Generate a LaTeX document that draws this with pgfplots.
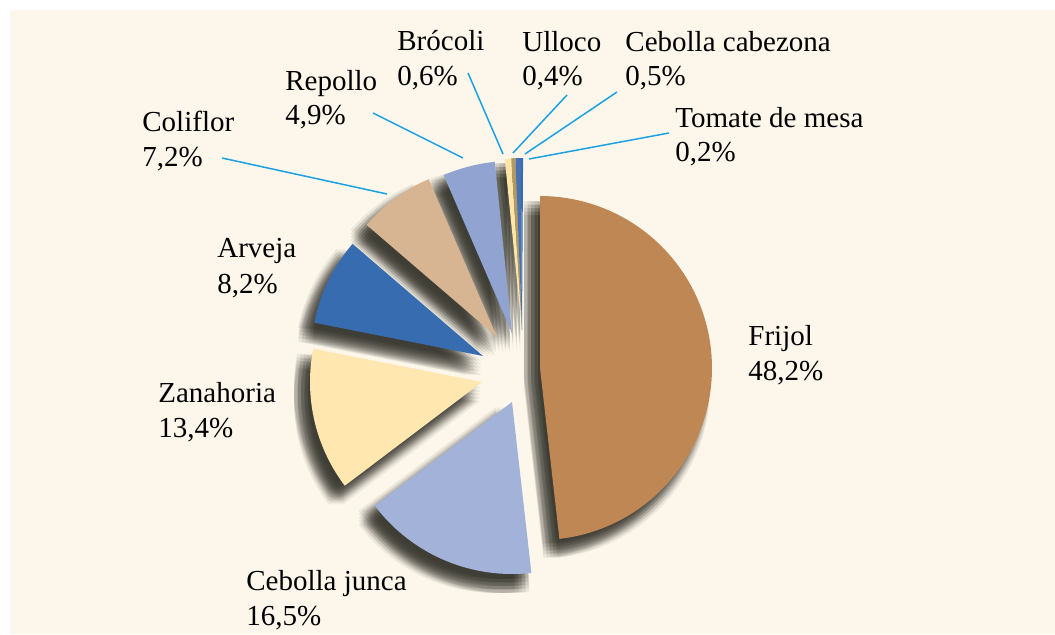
\documentclass[border=0pt]{standalone}
\usepackage{pgfplots}
\pgfplotsset{compat=1.18}
\usepackage{fontspec}
\setmainfont{Liberation Serif}
\newfontfamily\labfont{Liberation Serif}
\definecolor{cream}{HTML}{FDF7EB}
\definecolor{shadowc}{HTML}{26251F}
\definecolor{leader}{HTML}{1BA1E2}
\definecolor{cFrijol}{HTML}{BF8754}
\definecolor{cJunca}{HTML}{A3B2D8}
\definecolor{cZanahoria}{HTML}{FFE7AF}
\definecolor{cArveja}{HTML}{386CB0}
\definecolor{cColiflor}{HTML}{D7B592}
\definecolor{cRepollo}{HTML}{91A3D1}
\definecolor{cBrocoli}{HTML}{FFE5A8}
\definecolor{cUlloco}{HTML}{B19A62}
\definecolor{cCabezona}{HTML}{4672B4}
\definecolor{cTomate}{HTML}{3A6CB1}
\tikzset{lab/.style={font=\labfont\fontsize{14.5}{17}\selectfont, inner sep=0pt, anchor=base west, text=black}}
% radius of the pie, in pixels
\def\R{172}
% one blurred-shadow copy: #1 x, #2 y, #3 start angle, #4 end angle
\newcommand{\shadowcopy}[4]{%
  \edef\doit{%
    \noexpand\addplot[draw=none, fill=shadowc, fill opacity=0.075, domain=#4:#3, samples=40]
      ({#1+\R*cos(x)}, {#2+\R*sin(x)}) -- (axis cs:#1,#2) -- cycle;
  }\doit
}
% #1 apex x, #2 apex y, #3 cumulative percent before, #4 percent
\newcommand{\sliceshadow}[4]{%
  \pgfmathsetmacro\aS{90-3.6*(#3)}%
  \pgfmathsetmacro\aE{90-3.6*(#3+#4)}%
  \foreach \dx in {-16,-12.5,-9,-5.5,-2}{%
    \foreach \dy in {-19,-15.5,-12,-8.5,-5}{%
      \pgfmathsetmacro\sx{#1+\dx}%
      \pgfmathsetmacro\sy{#2+\dy}%
      \shadowcopy{\sx}{\sy}{\aS}{\aE}%
    }%
  }%
}
\newcommand{\slicefill}[5]{%
  \pgfmathsetmacro\aS{90-3.6*(#3)}%
  \pgfmathsetmacro\aE{90-3.6*(#3+#4)}%
  \edef\doit{%
    \noexpand\addplot[draw=none, fill=#5, domain=\aE:\aS, samples=80]
      ({#1+\R*cos(x)}, {#2+\R*sin(x)}) -- (axis cs:#1,#2) -- cycle;
  }\doit
}
\begin{document}
\begin{tikzpicture}
\begin{axis}[
  scale only axis, width=527.5pt, height=317pt,
  xmin=0, xmax=1055, ymin=0, ymax=634,
  axis lines=none, ticks=none,
]
\fill[white] (axis cs:0,0) rectangle (axis cs:1055,634);
\fill[cream] (axis cs:10,0) rectangle (axis cs:1055,624);
% shadows
\sliceshadow{540}{266}{0}{48.2}
\sliceshadow{512}{232}{48.2}{16.5}
\sliceshadow{482}{252}{64.7}{13.4}
\sliceshadow{483}{278}{78.1}{8.2}
\sliceshadow{497}{297}{86.3}{7.2}
\sliceshadow{512}{301}{93.5}{4.9}
\sliceshadow{522}{304}{98.4}{1.7}
% slices
\slicefill{540}{266}{0}{48.2}{cFrijol}
\slicefill{512}{232}{48.2}{16.5}{cJunca}
\slicefill{482}{252}{64.7}{13.4}{cZanahoria}
\slicefill{483}{278}{78.1}{8.2}{cArveja}
\slicefill{497}{297}{86.3}{7.2}{cColiflor}
\slicefill{512}{301}{93.5}{4.9}{cRepollo}
\slicefill{522}{304}{98.4}{0.6}{cBrocoli}
\slicefill{522}{304}{99.0}{0.4}{cUlloco}
\slicefill{522}{304}{99.4}{0.5}{cCabezona}
\slicefill{522}{304}{99.9}{0.2}{cTomate}
% leader lines
\addplot[leader, line width=0.75pt] coordinates {(468,561) (503,480)};
\addplot[leader, line width=0.75pt] coordinates {(567,539) (513,481)};
\addplot[leader, line width=0.75pt] coordinates {(617,542) (525,480)};
\addplot[leader, line width=0.75pt] coordinates {(669,501) (529,475)};
\addplot[leader, line width=0.75pt] coordinates {(373,521) (463,476)};
\addplot[leader, line width=0.75pt] coordinates {(222,476) (387,440)};
% labels
\node[lab] at (axis cs:748,289) {Frijol};
\node[lab] at (axis cs:748,254) {48,2\%};
\node[lab] at (axis cs:246,44) {Cebolla junca};
\node[lab] at (axis cs:246,9) {16,5\%};
\node[lab] at (axis cs:158,232) {Zanahoria};
\node[lab] at (axis cs:158,197) {13,4\%};
\node[lab] at (axis cs:217,377) {Arveja};
\node[lab] at (axis cs:217,341) {8,2\%};
\node[lab] at (axis cs:142,503) {Coliflor};
\node[lab] at (axis cs:142,468) {7,2\%};
\node[lab] at (axis cs:285,544) {Repollo};
\node[lab] at (axis cs:285,510) {4,9\%};
\node[lab] at (axis cs:397,584) {Brócoli};
\node[lab] at (axis cs:397,549) {0,6\%};
\node[lab] at (axis cs:522,583) {Ulloco};
\node[lab] at (axis cs:522,549) {0,4\%};
\node[lab] at (axis cs:625,583) {Cebolla cabezona};
\node[lab] at (axis cs:625,549) {0,5\%};
\node[lab] at (axis cs:675,507) {Tomate de mesa};
\node[lab] at (axis cs:675,473) {0,2\%};
\end{axis}
\end{tikzpicture}
\end{document}
